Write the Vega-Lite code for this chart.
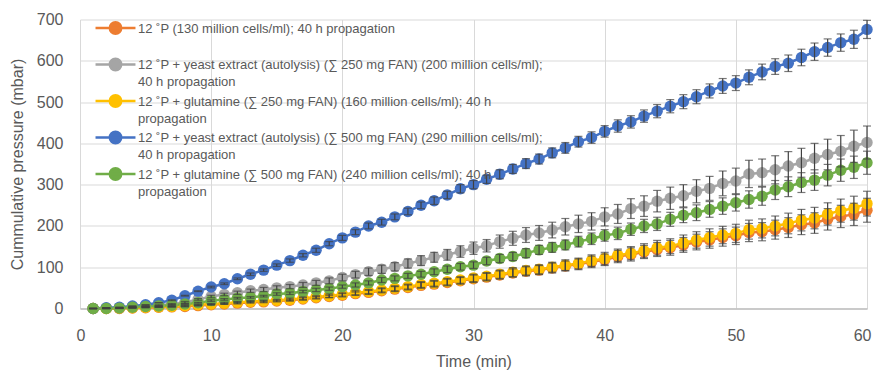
{
"$schema": "https://vega.github.io/schema/vega-lite/v6.json",
"width": 787, "height": 289,
"autosize": "none",
"padding": {"left": 80, "top": 19.5, "right": 6, "bottom": 63.5},
"background": "white",
"config": {"view": {"stroke": null}, "font": "Liberation Sans"},
"data": {"values": [
{"s":"O","t":1,"v":0,"e":0},{"s":"O","t":2,"v":0,"e":0},{"s":"O","t":3,"v":0,"e":0},{"s":"O","t":4,"v":1,"e":0},{"s":"O","t":5,"v":2,"e":0},{"s":"O","t":6,"v":3,"e":0},{"s":"O","t":7,"v":4,"e":0},{"s":"O","t":8,"v":5,"e":1},{"s":"O","t":9,"v":7,"e":1},{"s":"O","t":10,"v":9,"e":1},
{"s":"O","t":11,"v":11,"e":1},{"s":"O","t":12,"v":13,"e":2},{"s":"O","t":13,"v":15,"e":2},{"s":"O","t":14,"v":16,"e":2},{"s":"O","t":15,"v":18,"e":2},{"s":"O","t":16,"v":20,"e":2},{"s":"O","t":17,"v":23,"e":3},{"s":"O","t":18,"v":26,"e":3},{"s":"O","t":19,"v":29,"e":3},{"s":"O","t":20,"v":32,"e":4},
{"s":"O","t":21,"v":36,"e":4},{"s":"O","t":22,"v":39,"e":5},{"s":"O","t":23,"v":43,"e":5},{"s":"O","t":24,"v":47,"e":6},{"s":"O","t":25,"v":51,"e":6},{"s":"O","t":26,"v":56,"e":7},{"s":"O","t":27,"v":59,"e":7},{"s":"O","t":28,"v":63,"e":8},{"s":"O","t":29,"v":67,"e":8},{"s":"O","t":30,"v":72,"e":9},
{"s":"O","t":31,"v":76,"e":9},{"s":"O","t":32,"v":81,"e":10},{"s":"O","t":33,"v":86,"e":10},{"s":"O","t":34,"v":90,"e":11},{"s":"O","t":35,"v":93,"e":11},{"s":"O","t":36,"v":98,"e":12},{"s":"O","t":37,"v":103,"e":12},{"s":"O","t":38,"v":107,"e":13},{"s":"O","t":39,"v":113,"e":14},{"s":"O","t":40,"v":118,"e":14},
{"s":"O","t":41,"v":126,"e":15},{"s":"O","t":42,"v":131,"e":16},{"s":"O","t":43,"v":137,"e":16},{"s":"O","t":44,"v":143,"e":17},{"s":"O","t":45,"v":147,"e":18},{"s":"O","t":46,"v":154,"e":18},{"s":"O","t":47,"v":161,"e":19},{"s":"O","t":48,"v":166,"e":20},{"s":"O","t":49,"v":172,"e":21},{"s":"O","t":50,"v":176,"e":21},
{"s":"O","t":51,"v":184,"e":22},{"s":"O","t":52,"v":186,"e":22},{"s":"O","t":53,"v":191,"e":23},{"s":"O","t":54,"v":196,"e":24},{"s":"O","t":55,"v":203,"e":24},{"s":"O","t":56,"v":207,"e":25},{"s":"O","t":57,"v":216,"e":26},{"s":"O","t":58,"v":223,"e":27},{"s":"O","t":59,"v":228,"e":27},{"s":"O","t":60,"v":238,"e":29},
{"s":"G","t":1,"v":0,"e":0},{"s":"G","t":2,"v":1,"e":0},{"s":"G","t":3,"v":2,"e":0},{"s":"G","t":4,"v":4,"e":0},{"s":"G","t":5,"v":6,"e":1},{"s":"G","t":6,"v":8,"e":1},{"s":"G","t":7,"v":11,"e":1},{"s":"G","t":8,"v":15,"e":2},{"s":"G","t":9,"v":22,"e":2},{"s":"G","t":10,"v":29,"e":3},
{"s":"G","t":11,"v":34,"e":3},{"s":"G","t":12,"v":38,"e":4},{"s":"G","t":13,"v":43,"e":4},{"s":"G","t":14,"v":46,"e":5},{"s":"G","t":15,"v":50,"e":5},{"s":"G","t":16,"v":53,"e":5},{"s":"G","t":17,"v":57,"e":6},{"s":"G","t":18,"v":62,"e":6},{"s":"G","t":19,"v":67,"e":7},{"s":"G","t":20,"v":75,"e":8},
{"s":"G","t":21,"v":82,"e":8},{"s":"G","t":22,"v":89,"e":9},{"s":"G","t":23,"v":95,"e":10},{"s":"G","t":24,"v":101,"e":10},{"s":"G","t":25,"v":109,"e":11},{"s":"G","t":26,"v":116,"e":12},{"s":"G","t":27,"v":124,"e":12},{"s":"G","t":28,"v":130,"e":13},{"s":"G","t":29,"v":138,"e":14},{"s":"G","t":30,"v":146,"e":15},
{"s":"G","t":31,"v":152,"e":15},{"s":"G","t":32,"v":162,"e":16},{"s":"G","t":33,"v":170,"e":17},{"s":"G","t":34,"v":178,"e":18},{"s":"G","t":35,"v":183,"e":18},{"s":"G","t":36,"v":190,"e":19},{"s":"G","t":37,"v":198,"e":20},{"s":"G","t":38,"v":205,"e":21},{"s":"G","t":39,"v":211,"e":21},{"s":"G","t":40,"v":222,"e":22},
{"s":"G","t":41,"v":229,"e":23},{"s":"G","t":42,"v":242,"e":24},{"s":"G","t":43,"v":248,"e":25},{"s":"G","t":44,"v":260,"e":26},{"s":"G","t":45,"v":267,"e":27},{"s":"G","t":46,"v":273,"e":27},{"s":"G","t":47,"v":284,"e":28},{"s":"G","t":48,"v":291,"e":29},{"s":"G","t":49,"v":303,"e":30},{"s":"G","t":50,"v":309,"e":31},
{"s":"G","t":51,"v":326,"e":33},{"s":"G","t":52,"v":329,"e":33},{"s":"G","t":53,"v":336,"e":34},{"s":"G","t":54,"v":345,"e":35},{"s":"G","t":55,"v":353,"e":35},{"s":"G","t":56,"v":364,"e":36},{"s":"G","t":57,"v":373,"e":37},{"s":"G","t":58,"v":381,"e":38},{"s":"G","t":59,"v":393,"e":39},{"s":"G","t":60,"v":402,"e":40},
{"s":"Y","t":1,"v":0,"e":0},{"s":"Y","t":2,"v":0,"e":0},{"s":"Y","t":3,"v":1,"e":0},{"s":"Y","t":4,"v":2,"e":0},{"s":"Y","t":5,"v":3,"e":0},{"s":"Y","t":6,"v":4,"e":0},{"s":"Y","t":7,"v":5,"e":1},{"s":"Y","t":8,"v":7,"e":1},{"s":"Y","t":9,"v":9,"e":1},{"s":"Y","t":10,"v":11,"e":1},
{"s":"Y","t":11,"v":13,"e":2},{"s":"Y","t":12,"v":15,"e":2},{"s":"Y","t":13,"v":17,"e":2},{"s":"Y","t":14,"v":18,"e":2},{"s":"Y","t":15,"v":20,"e":2},{"s":"Y","t":16,"v":22,"e":3},{"s":"Y","t":17,"v":25,"e":3},{"s":"Y","t":18,"v":28,"e":3},{"s":"Y","t":19,"v":31,"e":4},{"s":"Y","t":20,"v":34,"e":4},
{"s":"Y","t":21,"v":38,"e":5},{"s":"Y","t":22,"v":41,"e":5},{"s":"Y","t":23,"v":45,"e":5},{"s":"Y","t":24,"v":49,"e":6},{"s":"Y","t":25,"v":53,"e":6},{"s":"Y","t":26,"v":58,"e":7},{"s":"Y","t":27,"v":61,"e":7},{"s":"Y","t":28,"v":65,"e":8},{"s":"Y","t":29,"v":69,"e":8},{"s":"Y","t":30,"v":74,"e":9},
{"s":"Y","t":31,"v":78,"e":9},{"s":"Y","t":32,"v":83,"e":10},{"s":"Y","t":33,"v":88,"e":11},{"s":"Y","t":34,"v":92,"e":11},{"s":"Y","t":35,"v":95,"e":11},{"s":"Y","t":36,"v":100,"e":12},{"s":"Y","t":37,"v":105,"e":13},{"s":"Y","t":38,"v":109,"e":13},{"s":"Y","t":39,"v":116,"e":14},{"s":"Y","t":40,"v":121,"e":15},
{"s":"Y","t":41,"v":129,"e":15},{"s":"Y","t":42,"v":134,"e":16},{"s":"Y","t":43,"v":140,"e":17},{"s":"Y","t":44,"v":147,"e":18},{"s":"Y","t":45,"v":151,"e":18},{"s":"Y","t":46,"v":159,"e":19},{"s":"Y","t":47,"v":166,"e":20},{"s":"Y","t":48,"v":172,"e":21},{"s":"Y","t":49,"v":178,"e":21},{"s":"Y","t":50,"v":182,"e":22},
{"s":"Y","t":51,"v":191,"e":23},{"s":"Y","t":52,"v":194,"e":23},{"s":"Y","t":53,"v":200,"e":24},{"s":"Y","t":54,"v":206,"e":25},{"s":"Y","t":55,"v":214,"e":26},{"s":"Y","t":56,"v":219,"e":26},{"s":"Y","t":57,"v":229,"e":27},{"s":"Y","t":58,"v":237,"e":28},{"s":"Y","t":59,"v":243,"e":29},{"s":"Y","t":60,"v":254,"e":30},
{"s":"B","t":1,"v":0,"e":0},{"s":"B","t":2,"v":2,"e":0},{"s":"B","t":3,"v":3,"e":0},{"s":"B","t":4,"v":6,"e":0},{"s":"B","t":5,"v":9,"e":0},{"s":"B","t":6,"v":14,"e":0},{"s":"B","t":7,"v":20,"e":1},{"s":"B","t":8,"v":31,"e":1},{"s":"B","t":9,"v":42,"e":1},{"s":"B","t":10,"v":52,"e":2},
{"s":"B","t":11,"v":60,"e":2},{"s":"B","t":12,"v":72,"e":2},{"s":"B","t":13,"v":83,"e":3},{"s":"B","t":14,"v":93,"e":3},{"s":"B","t":15,"v":105,"e":3},{"s":"B","t":16,"v":116,"e":4},{"s":"B","t":17,"v":129,"e":4},{"s":"B","t":18,"v":141,"e":5},{"s":"B","t":19,"v":157,"e":5},{"s":"B","t":20,"v":171,"e":6},
{"s":"B","t":21,"v":185,"e":6},{"s":"B","t":22,"v":200,"e":7},{"s":"B","t":23,"v":209,"e":7},{"s":"B","t":24,"v":222,"e":7},{"s":"B","t":25,"v":235,"e":8},{"s":"B","t":26,"v":250,"e":8},{"s":"B","t":27,"v":261,"e":9},{"s":"B","t":28,"v":275,"e":9},{"s":"B","t":29,"v":290,"e":10},{"s":"B","t":30,"v":300,"e":10},
{"s":"B","t":31,"v":313,"e":10},{"s":"B","t":32,"v":325,"e":11},{"s":"B","t":33,"v":338,"e":11},{"s":"B","t":34,"v":351,"e":12},{"s":"B","t":35,"v":362,"e":12},{"s":"B","t":36,"v":377,"e":12},{"s":"B","t":37,"v":389,"e":13},{"s":"B","t":38,"v":404,"e":13},{"s":"B","t":39,"v":414,"e":14},{"s":"B","t":40,"v":429,"e":14},
{"s":"B","t":41,"v":442,"e":15},{"s":"B","t":42,"v":452,"e":15},{"s":"B","t":43,"v":466,"e":15},{"s":"B","t":44,"v":478,"e":16},{"s":"B","t":45,"v":490,"e":16},{"s":"B","t":46,"v":501,"e":17},{"s":"B","t":47,"v":513,"e":17},{"s":"B","t":48,"v":527,"e":17},{"s":"B","t":49,"v":539,"e":18},{"s":"B","t":50,"v":546,"e":18},
{"s":"B","t":51,"v":560,"e":18},{"s":"B","t":52,"v":573,"e":19},{"s":"B","t":53,"v":586,"e":19},{"s":"B","t":54,"v":594,"e":20},{"s":"B","t":55,"v":608,"e":20},{"s":"B","t":56,"v":622,"e":21},{"s":"B","t":57,"v":632,"e":21},{"s":"B","t":58,"v":644,"e":21},{"s":"B","t":59,"v":652,"e":22},{"s":"B","t":60,"v":676,"e":22},
{"s":"N","t":1,"v":0,"e":0},{"s":"N","t":2,"v":0,"e":0},{"s":"N","t":3,"v":1,"e":0},{"s":"N","t":4,"v":3,"e":0},{"s":"N","t":5,"v":5,"e":0},{"s":"N","t":6,"v":6,"e":0},{"s":"N","t":7,"v":8,"e":1},{"s":"N","t":8,"v":11,"e":1},{"s":"N","t":9,"v":14,"e":1},{"s":"N","t":10,"v":19,"e":2},
{"s":"N","t":11,"v":22,"e":2},{"s":"N","t":12,"v":25,"e":2},{"s":"N","t":13,"v":27,"e":2},{"s":"N","t":14,"v":30,"e":2},{"s":"N","t":15,"v":35,"e":3},{"s":"N","t":16,"v":37,"e":3},{"s":"N","t":17,"v":41,"e":3},{"s":"N","t":18,"v":45,"e":4},{"s":"N","t":19,"v":48,"e":4},{"s":"N","t":20,"v":53,"e":4},
{"s":"N","t":21,"v":57,"e":5},{"s":"N","t":22,"v":62,"e":5},{"s":"N","t":23,"v":69,"e":6},{"s":"N","t":24,"v":73,"e":6},{"s":"N","t":25,"v":79,"e":6},{"s":"N","t":26,"v":83,"e":7},{"s":"N","t":27,"v":89,"e":7},{"s":"N","t":28,"v":95,"e":8},{"s":"N","t":29,"v":101,"e":8},{"s":"N","t":30,"v":105,"e":8},
{"s":"N","t":31,"v":115,"e":9},{"s":"N","t":32,"v":121,"e":10},{"s":"N","t":33,"v":126,"e":10},{"s":"N","t":34,"v":134,"e":11},{"s":"N","t":35,"v":142,"e":11},{"s":"N","t":36,"v":148,"e":12},{"s":"N","t":37,"v":154,"e":12},{"s":"N","t":38,"v":162,"e":13},{"s":"N","t":39,"v":169,"e":14},{"s":"N","t":40,"v":177,"e":14},
{"s":"N","t":41,"v":182,"e":15},{"s":"N","t":42,"v":192,"e":15},{"s":"N","t":43,"v":200,"e":16},{"s":"N","t":44,"v":205,"e":16},{"s":"N","t":45,"v":216,"e":17},{"s":"N","t":46,"v":226,"e":18},{"s":"N","t":47,"v":232,"e":19},{"s":"N","t":48,"v":240,"e":19},{"s":"N","t":49,"v":248,"e":20},{"s":"N","t":50,"v":256,"e":20},
{"s":"N","t":51,"v":264,"e":21},{"s":"N","t":52,"v":272,"e":22},{"s":"N","t":53,"v":287,"e":23},{"s":"N","t":54,"v":295,"e":24},{"s":"N","t":55,"v":305,"e":24},{"s":"N","t":56,"v":311,"e":25},{"s":"N","t":57,"v":323,"e":26},{"s":"N","t":58,"v":335,"e":27},{"s":"N","t":59,"v":342,"e":27},{"s":"N","t":60,"v":353,"e":28}
]},
"encoding": {
  "x": {"field": "t", "type": "quantitative", "scale": {"domain": [0, 60], "nice": false},
    "axis": {"values": [0,10,20,30,40,50,60], "grid": true, "gridColor": "#d9d9d9", "ticks": false, "labelFlush": true, "labelFlushOffset": 4,
      "domainColor": "#bfbfbf", "domainWidth": 1.5, "labelFontSize": 16, "labelColor": "#595959", "labelPadding": 19,
      "title": "Time (min)", "titleFontSize": 16, "titleFontWeight": "normal", "titleColor": "#595959",
      "titleY": 58, "titleBaseline": "alphabetic"}},
  "y": {"field": "v", "type": "quantitative", "scale": {"domain": [0, 700], "nice": false},
    "axis": {"values": [0,100,200,300,400,500,600,700], "grid": true, "gridColor": "#d9d9d9", "ticks": false, "domain": false, "labelFlush": false,
      "labelFontSize": 16, "labelColor": "#595959", "labelPadding": 17,
      "title": "Cummulative pressure (mbar)", "titleFontSize": 16, "titleFontWeight": "normal", "titleColor": "#595959",
      "titleX": -63, "titleY": 144.5, "titleBaseline": "middle"}}
},
"layer": [
  {"mark": {"type": "line", "strokeWidth": 2.5, "point": {"filled": true, "size": 130, "opacity": 1}},
   "encoding": {"color": {"field": "s", "type": "nominal",
     "scale": {"domain": ["O","G","Y","B","N"], "range": ["#ED7D31","#A5A5A5","#FFC000","#4472C4","#70AD47"]},
     "legend": {"orient": "none", "legendX": 28, "legendY": 1, "title": null, "padding": 0,
       "symbolType": "M-3.33,0L3.33,0M0.95,0A0.95,0.95,0,1,1,-0.95,0A0.95,0.95,0,1,1,0.95,0Z",
       "symbolSize": 144, "symbolStrokeWidth": 2.5, "labelFontSize": 13, "labelColor": "#595959",
       "labelLimit": 700, "labelBaseline": "top", "labelOffset": 15, "rowPadding": 0.5,
       "labelExpr": "datum.value == 'O' ? ['12 ˚P (130 million cells/ml); 40 h propagation', ' '] : datum.value == 'G' ? ['12 ˚P + yeast extract (autolysis) (∑ 250 mg FAN) (200 million cells/ml);', '40 h propagation'] : datum.value == 'Y' ? ['12 ˚P + glutamine (∑ 250 mg FAN) (160 million cells/ml); 40 h', 'propagation'] : datum.value == 'B' ? ['12 ˚P + yeast extract (autolysis) (∑ 500 mg FAN) (290 million cells/ml);', '40 h propagation'] : ['12 ˚P + glutamine (∑ 500 mg FAN) (240 million cells/ml); 40 h', 'propagation']",
       "encode": {"symbols": {"update": {"fill": {"scale": "color", "field": "value"}, "stroke": {"scale": "color", "field": "value"}, "opacity": {"value": 1}}},
                  "labels": {"update": {"dy": {"value": -5.5}, "lineHeight": {"value": 17}}}}}}}},
  {"mark": {"type": "errorbar", "ticks": {"size": 8}, "color": "#404040", "thickness": 1.2},
   "encoding": {"yError": {"field": "e"}}}
]
}
